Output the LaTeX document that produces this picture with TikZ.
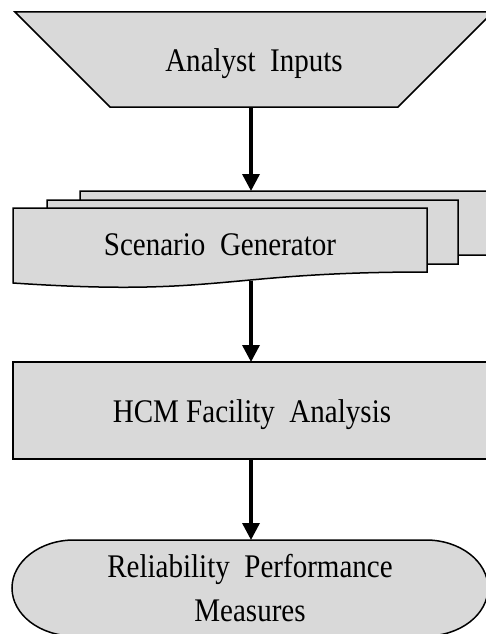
\documentclass[tikz,border=0pt]{standalone}
\usepackage{fontspec}
\setmainfont{Liberation Serif}[FakeStretch=0.88]
\usetikzlibrary{arrows.meta}
\definecolor{cajagris}{RGB}{217,217,217}

\begin{document}
\begin{tikzpicture}[x=1pt, y=-1pt,
    caja/.style={draw=black, line width=1.5pt, fill=cajagris},
    texto/.style={font=\fontsize{33}{44}\selectfont, inner sep=0pt},
    flecha/.style={-{Triangle[width=17pt, length=17pt]}, line width=3.4pt}]
  \useasboundingbox (0,0) rectangle (486,634);
  \clip (0,0) rectangle (486,634);

  % Entradas
  \draw[caja] (15,12) -- (493,12) -- (398,107) -- (110,107) -- cycle;
  \node[texto, anchor=base] (inputs) at (254,71) {Analyst~~Inputs};
  \coordinate (inputs-s) at (251,107);

  % Documentos apilados
  \foreach \x/\y/\w in {80/191/412, 47/200/411, 13/208/414}{
    \draw[caja] (\x,\y) -- (\x+\w,\y) -- (\x+\w,\y+64)
      .. controls (\x+\w/2,\y+64) and (\x+\w/2,\y+89) .. (\x,\y+75) -- cycle;}
  \node[texto, anchor=base] (scen) at (220,255) {Scenario~~Generator};
  \coordinate (scen-n) at (251,191);
  \coordinate (scen-s) at (251,281);

  % HCM
  \draw[caja] (13,362) rectangle (491,459);
  \node[texto, anchor=base] (hcm) at (252,422) {HCM Facility~~Analysis};
  \coordinate (hcm-n) at (251,362);
  \coordinate (hcm-s) at (251,459);

  % Resultados
  \draw[caja] (74,540) -- (426,540) arc[start angle=-90, end angle=90, x radius=62, y radius=48]
    -- (74,636) arc[start angle=90, end angle=270, x radius=62, y radius=48] -- cycle;
  \node[texto, align=center] (measures) at (250,588) {Reliability~~Performance\\Measures};
  \coordinate (measures-n) at (251,540);

  % Flechas
  \draw[flecha] (inputs-s) -- (scen-n);
  \draw[flecha] (scen-s) -- (hcm-n);
  \draw[flecha] (hcm-s) -- (measures-n);
\end{tikzpicture}
\end{document}
